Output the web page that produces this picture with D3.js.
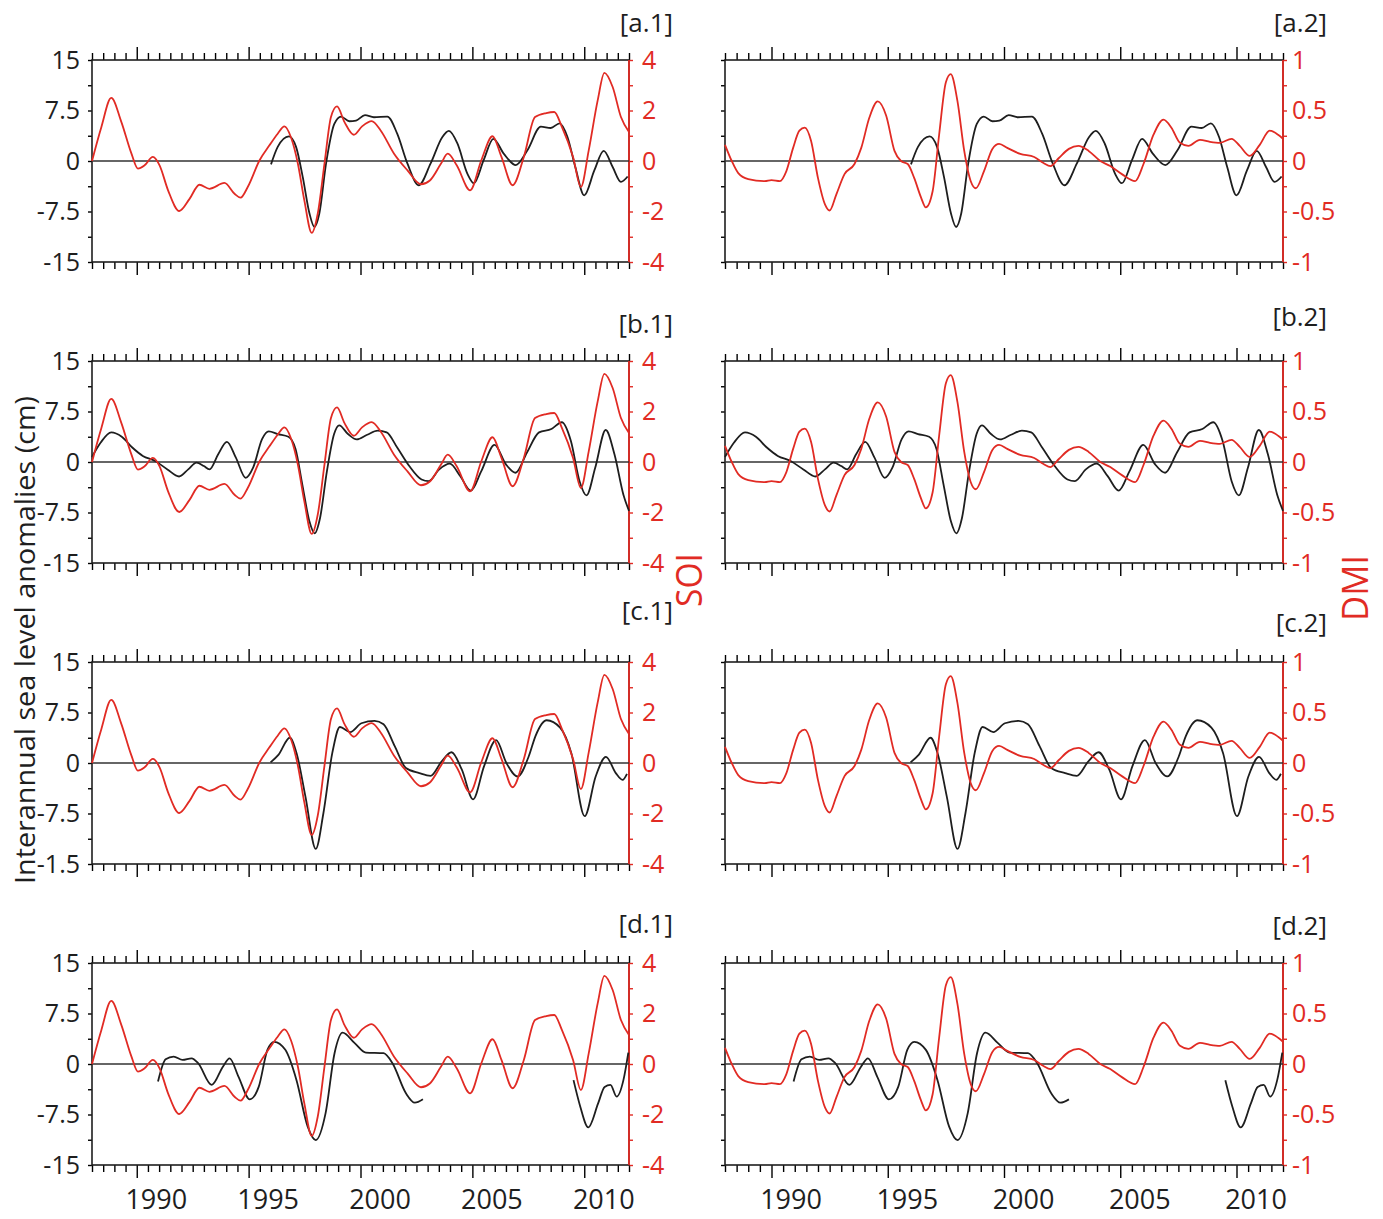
<!DOCTYPE html>
<html>
<head>
<meta charset="utf-8">
<script src="https://cdn.jsdelivr.net/npm/d3@7"></script>
<style>
  body { margin: 0; background: #fff; }
  text { font-family: "Open Sans", sans-serif; }
</style>
</head>
<body>
<svg id="chart" width="1383" height="1219"></svg>
<script>
// Southern Oscillation Index (red, left column) : [year, value]
const soi = [
  [1988.0, 0.0], [1988.42, 1.35], [1988.86, 2.5], [1989.31, 1.55], [1989.76, 0.3],
  [1990.05, -0.3], [1990.35, -0.17], [1990.72, 0.16], [1991.02, -0.17], [1991.4, -1.16],
  [1991.9, -1.98], [1992.36, -1.5], [1992.8, -0.94], [1993.25, -1.1], [1993.92, -0.87],
  [1994.37, -1.3], [1994.64, -1.45], [1994.96, -1.03], [1995.49, 0.03], [1995.93, 0.62],
  [1996.3, 1.08], [1996.6, 1.37], [1996.9, 0.92], [1997.2, -0.1], [1997.49, -1.56],
  [1997.82, -2.85], [1998.09, -2.08], [1998.39, -0.1], [1998.68, 1.74], [1998.95, 2.16],
  [1999.28, 1.55], [1999.7, 1.04], [2000.07, 1.37], [2000.5, 1.58], [2000.9, 1.21],
  [2001.5, 0.29], [2002.1, -0.37], [2002.7, -0.92], [2003.1, -0.77], [2003.6, -0.1],
  [2003.9, 0.29], [2004.3, -0.17], [2004.9, -1.16], [2005.4, 0.03], [2005.9, 0.98],
  [2006.3, 0.16], [2006.8, -0.96], [2007.3, 0.16], [2007.8, 1.74], [2008.3, 1.9],
  [2008.66, 1.94], [2009.0, 1.35], [2009.5, 0.16], [2009.85, -1.03], [2010.2, 0.42],
  [2010.6, 2.4], [2010.9, 3.49], [2011.27, 2.93], [2011.64, 1.74], [2012.0, 1.15]
];

// Dipole Mode Index (red, right column)
const dmi = [
  [1988.0, 0.16], [1988.29, 0.0], [1988.57, -0.12], [1989.0, -0.18], [1989.71, -0.2],
  [1990.0, -0.19], [1990.36, -0.2], [1990.64, -0.1], [1990.93, 0.13], [1991.2, 0.3],
  [1991.43, 0.33], [1991.7, 0.2], [1992.0, -0.17], [1992.3, -0.43], [1992.5, -0.49],
  [1992.79, -0.33], [1993.14, -0.13], [1993.57, -0.03], [1993.86, 0.13], [1994.21, 0.43],
  [1994.57, 0.59], [1994.93, 0.45], [1995.29, 0.1], [1995.57, 0.0], [1995.86, -0.03],
  [1996.14, -0.17], [1996.43, -0.36], [1996.64, -0.46], [1996.93, -0.3], [1997.21, 0.26],
  [1997.5, 0.78], [1997.71, 0.86], [1998.0, 0.59], [1998.29, 0.1], [1998.57, -0.2],
  [1998.79, -0.27], [1999.14, -0.1], [1999.5, 0.12], [1999.79, 0.17], [2000.14, 0.13],
  [2000.7, 0.07], [2001.3, 0.04], [2001.7, -0.02], [2002.0, -0.05], [2002.36, 0.03],
  [2002.79, 0.12], [2003.2, 0.15], [2003.64, 0.1], [2004.14, 0.0], [2004.57, -0.05],
  [2005.07, -0.13], [2005.64, -0.2], [2006.0, -0.03], [2006.43, 0.26], [2006.86, 0.41],
  [2007.2, 0.33], [2007.57, 0.18], [2007.93, 0.15], [2008.43, 0.21], [2008.86, 0.19],
  [2009.29, 0.18], [2009.79, 0.22], [2010.14, 0.15], [2010.57, 0.05], [2011.0, 0.16],
  [2011.43, 0.3], [2011.79, 0.26], [2012.0, 0.22]
];

// interannual sea level anomalies (cm), black, one series per row
const seaA = [
  [1996.0, -0.5], [1996.3, 2.1], [1996.8, 3.66], [1997.12, 2.1], [1997.42, -2.4],
  [1997.72, -7.8], [1997.94, -9.8], [1998.16, -7.8], [1998.46, -0.4], [1998.83, 5.5],
  [1999.13, 6.6], [1999.5, 5.9], [1999.8, 6.0], [2000.2, 6.8], [2000.6, 6.5],
  [2001.2, 6.6], [2001.64, 4.06], [2002.1, -0.4], [2002.6, -3.6], [2003.13, -0.4],
  [2003.66, 3.56], [2003.95, 4.46], [2004.33, 2.6], [2004.78, -1.9], [2005.07, -3.3],
  [2005.5, 0.1], [2005.94, 3.3], [2006.4, 1.1], [2006.94, -0.6], [2007.46, 1.6],
  [2008.06, 5.1], [2008.5, 4.9], [2008.9, 5.6], [2009.25, 3.56], [2009.6, -0.9],
  [2010.0, -5.1], [2010.45, -1.4], [2010.87, 1.5], [2011.27, -0.9], [2011.64, -3.1],
  [2011.94, -2.3]
];

const seaB = [
  [1988.0, 0.75], [1988.39, 2.9], [1988.86, 4.4], [1989.33, 3.75], [1989.8, 2.15],
  [1990.27, 0.9], [1990.82, 0.15], [1991.37, -1.1], [1991.89, -2.15], [1992.3, -1.1],
  [1992.67, -0.1], [1993.0, -0.6], [1993.25, -1.1], [1993.64, 1.15], [1994.03, 3.0],
  [1994.43, 0.65], [1994.87, -2.35], [1995.2, -0.85], [1995.6, 3.4], [1995.9, 4.55],
  [1996.3, 4.15], [1996.78, 3.75], [1997.1, 1.9], [1997.4, -3.35], [1997.72, -8.85],
  [1997.95, -10.6], [1998.19, -8.35], [1998.5, -1.35], [1998.82, 4.15], [1999.05, 5.45],
  [1999.44, 4.15], [1999.83, 3.35], [2000.3, 4.05], [2000.77, 4.65], [2001.17, 4.4],
  [2001.64, 2.15], [2002.18, -0.6], [2002.73, -2.6], [2003.05, -2.85], [2003.52, -1.1],
  [2003.99, -0.25], [2004.46, -2.1], [2004.93, -4.25], [2005.4, -1.35], [2005.99, 2.55],
  [2006.5, -0.35], [2006.93, -1.6], [2007.44, 1.4], [2007.98, 4.4], [2008.53, 4.9],
  [2009.0, 5.9], [2009.4, 3.15], [2009.79, -2.85], [2010.1, -4.95], [2010.49, -0.85],
  [2010.96, 4.75], [2011.35, 1.15], [2011.75, -4.85], [2012.0, -7.25]
];

const seaC = [
  [1995.98, 0.1], [1996.34, 1.25], [1996.84, 3.75], [1997.14, 1.5], [1997.54, -5.0],
  [1998.0, -12.75], [1998.34, -7.5], [1998.74, 1.5], [1999.08, 5.35], [1999.54, 4.6],
  [2000.04, 5.9], [2000.63, 6.25], [2001.03, 5.75], [2001.53, 2.5], [2002.03, -0.75],
  [2002.63, -1.5], [2003.13, -1.9], [2003.63, 0.25], [2004.07, 1.6], [2004.53, -1.0],
  [2005.03, -5.4], [2005.52, -0.5], [2006.06, 3.4], [2006.52, 0.0], [2007.02, -2.0],
  [2007.52, 1.0], [2007.82, 4.0], [2008.32, 6.35], [2008.92, 5.25], [2009.42, 1.5],
  [2010.02, -7.9], [2010.51, -2.0], [2010.97, 0.9], [2011.41, -1.5], [2011.71, -2.5],
  [2011.91, -1.6]
];

// gap in the record between 2002.8 and 2009.5
const seaD = [
  [1990.95, -2.6], [1991.29, 0.7], [1991.65, 1.1], [1992.05, 0.6], [1992.45, 0.85],
  [1992.75, 0.1], [1993.35, -3.1], [1993.85, -0.4], [1994.15, 0.85], [1994.55, -1.9],
  [1995.05, -5.25], [1995.45, -3.4], [1995.84, 2.1], [1996.14, 3.3], [1996.64, 2.1],
  [1997.14, -2.4], [1997.64, -9.3], [1998.0, -11.3], [1998.44, -7.3], [1998.84, 1.6],
  [1999.2, 4.65], [1999.74, 3.1], [2000.24, 1.7], [2001.03, 1.6], [2001.43, 0.1],
  [2002.03, -4.35], [2002.43, -5.75], [2002.79, -5.25],
  [2006.0, null],
  [2009.52, -2.4], [2009.82, -6.3], [2010.18, -9.4], [2010.62, -5.85], [2010.91, -3.4],
  [2011.17, -3.1], [2011.45, -4.85], [2011.75, -2.4], [2011.97, 1.7]
];

const rows = ['a', 'b', 'c', 'd'];
const seaSeries = [seaA, seaB, seaC, seaD];
const seaTicks = [-15, -7.5, 0, 7.5, 15];
const seaTickLabels = [
  ['-15', '-7.5', '0', '7.5', '15'],
  ['-15', '-7.5', '0', '7.5', '15'],
  ['-1.5', '-7.5', '0', '7.5', '15'],
  ['-15', '-7.5', '0', '7.5', '15']
];
const soiTicks = [-4, -2, 0, 2, 4];
const dmiTicks = [-1, -0.5, 0, 0.5, 1];
const yearTicks = [1990, 1995, 2000, 2005, 2010];

const svg = d3.select('#chart');
const red = '#e12b24';
const ink = '#1e1e1e';

const colX = [[92, 629], [725, 1283]];
const rowTop = [60, 361, 662, 963];
const panelH = 202;
const labelX = [673, 1327];
const labelLift = [[28, 28], [28, 35], [42, 30], [30, 28]];

const halfYears = d3.range(1988, 2012.001, 0.5);
const minorYears = halfYears.filter((d) => d % 5 !== 0);

const noDomain = (s) => s.select('.domain').remove();

rows.forEach((row, r) => {
  [0, 1].forEach((c) => {
    const [x0, x1] = colX[c];
    const top = rowTop[r];
    const bottom = top + panelH;

    const x = d3.scaleLinear().domain([1988, 2012]).range([x0, x1]);
    const yL = d3.scaleLinear().domain([-15, 15]).range([bottom, top]);
    const yR = d3
      .scaleLinear()
      .domain(c === 0 ? [-4, 4] : [-1, 1])
      .range([bottom, top]);

    const g = svg.append('g');

    // year ticks, top and bottom, outward
    [
      [d3.axisTop, top],
      [d3.axisBottom, bottom]
    ].forEach(([axis, y]) => {
      g.append('g')
        .attr('transform', `translate(0, ${y})`)
        .call(axis(x).tickValues(minorYears).tickSize(7).tickFormat(''))
        .call(noDomain);
      g.append('g')
        .attr('transform', `translate(0, ${y})`)
        .call(axis(x).tickValues(yearTicks).tickSize(13).tickFormat(''))
        .call(noDomain);
    });

    // left axis ticks (sea level)
    g.append('g')
      .attr('transform', `translate(${x0}, 0)`)
      .call(d3.axisLeft(yL).tickValues(d3.range(-15, 15.01, 3.75)).tickSize(4).tickFormat(''))
      .call(noDomain);

    if (c === 0) {
      g.append('g')
        .attr('transform', `translate(${x0}, 0)`)
        .call(
          d3
            .axisLeft(yL)
            .tickValues(seaTicks)
            .tickSize(0)
            .tickPadding(12)
            .tickFormat((d, i) => seaTickLabels[r][i])
        )
        .call(noDomain)
        .attr('font-size', 25)
        .attr('font-family', '"Open Sans", sans-serif')
        .selectAll('text')
        .attr('fill', ink);
    }

    // right axis (SOI / DMI) in red
    const rightMinor = c === 0 ? d3.range(-4, 4.01, 1) : d3.range(-1, 1.01, 0.25);
    g.append('g')
      .attr('transform', `translate(${x1}, 0)`)
      .call(d3.axisRight(yR).tickValues(rightMinor).tickSize(4).tickFormat(''))
      .call(noDomain)
      .selectAll('line')
      .attr('stroke', red);

    g.append('g')
      .attr('transform', `translate(${x1}, 0)`)
      .call(
        d3
          .axisRight(yR)
          .tickValues(c === 0 ? soiTicks : dmiTicks)
          .tickSize(0)
          .tickPadding(c === 0 ? 13 : 9)
          .tickFormat((d) => String(d))
      )
      .call(noDomain)
      .attr('font-size', 25)
      .attr('font-family', '"Open Sans", sans-serif')
      .selectAll('text')
      .attr('fill', red);

    g.selectAll('.tick line').attr('stroke-width', 1.4);

    // year labels on bottom row
    if (r === 3) {
      g.append('g')
        .attr('transform', `translate(0, ${bottom})`)
        .call(d3.axisBottom(x).tickValues(yearTicks).tickSize(0).tickPadding(25).tickFormat(d3.format('d')))
        .call(noDomain)
        .attr('font-size', 27)
        .attr('font-family', '"Open Sans", sans-serif')
        .selectAll('text')
        .attr('dx', 19)
        .attr('fill', ink);
    }

    // frame
    g.append('rect')
      .attr('x', x0)
      .attr('y', top)
      .attr('width', x1 - x0)
      .attr('height', panelH)
      .attr('fill', 'none')
      .attr('stroke', ink)
      .attr('stroke-width', 1.6);
    g.append('line')
      .attr('x1', x1)
      .attr('x2', x1)
      .attr('y1', top)
      .attr('y2', bottom)
      .attr('stroke', red)
      .attr('stroke-width', 1.8);

    // zero line
    g.append('line')
      .attr('x1', x0)
      .attr('x2', x1)
      .attr('y1', yL(0))
      .attr('y2', yL(0))
      .attr('stroke', '#333')
      .attr('stroke-width', 1.6);

    const seaLine = d3
      .line()
      .defined((d) => d[1] !== null)
      .x((d) => x(d[0]))
      .y((d) => yL(d[1]))
      .curve(d3.curveMonotoneX);

    const indexLine = d3
      .line()
      .x((d) => x(d[0]))
      .y((d) => yR(d[1]))
      .curve(d3.curveMonotoneX);

    g.append('path')
      .datum(seaSeries[r])
      .attr('d', seaLine)
      .attr('fill', 'none')
      .attr('stroke', ink)
      .attr('stroke-width', 1.8);

    g.append('path')
      .datum(c === 0 ? soi : dmi)
      .attr('d', indexLine)
      .attr('fill', 'none')
      .attr('stroke', red)
      .attr('stroke-width', 1.8);

    // panel tag
    g.append('text')
      .attr('x', labelX[c])
      .attr('y', top - labelLift[r][c])
      .attr('text-anchor', 'end')
      .attr('font-size', 26)
      .attr('fill', ink)
      .text(`[${row}.${c + 1}]`);
  });
});

// axis titles
svg.append('text')
  .attr('transform', 'translate(35, 640) rotate(-90)')
  .attr('text-anchor', 'middle')
  .attr('font-size', 28)
  .attr('fill', ink)
  .attr('textLength', 488)
  .attr('lengthAdjust', 'spacingAndGlyphs')
  .text('Interannual sea level anomalies (cm)');

svg.append('text')
  .attr('transform', 'translate(702, 580) rotate(-90)')
  .attr('text-anchor', 'middle')
  .attr('font-size', 36)
  .attr('fill', red)
  .attr('textLength', 54)
  .attr('lengthAdjust', 'spacingAndGlyphs')
  .text('SOI');

svg.append('text')
  .attr('transform', 'translate(1368, 588) rotate(-90)')
  .attr('text-anchor', 'middle')
  .attr('font-size', 36)
  .attr('fill', red)
  .attr('textLength', 66)
  .attr('lengthAdjust', 'spacingAndGlyphs')
  .text('DMI');
</script>
</body>
</html>
